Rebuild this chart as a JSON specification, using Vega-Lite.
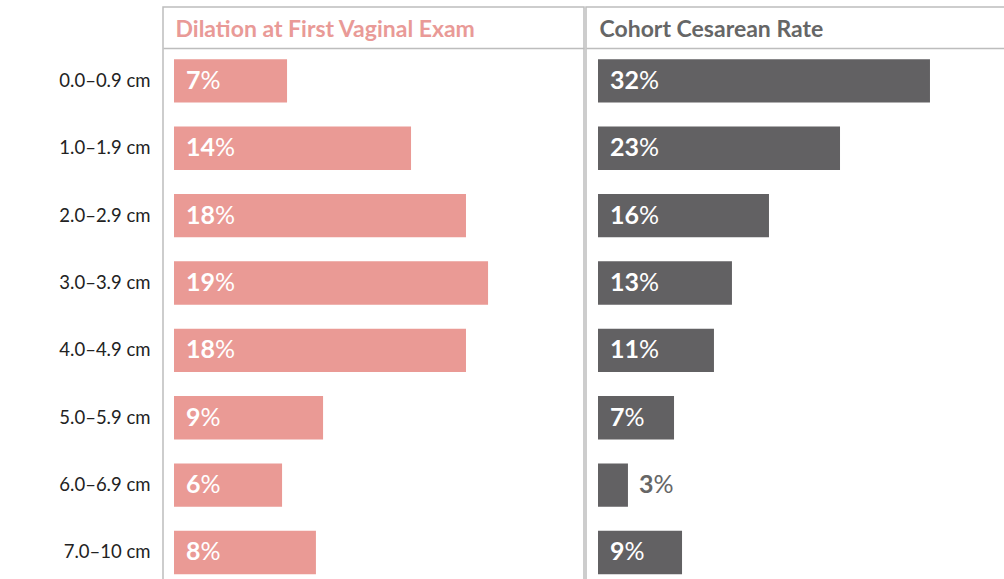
{
  "$schema": "https://vega.github.io/schema/vega-lite/v6.json",
  "padding": {"left": 0, "top": 6, "right": 0, "bottom": 0},
  "background": "white",
  "spacing": 0,
  "config": {"view": {"stroke": "#bdbdbd", "strokeWidth": 1.5}, "font": "Lato"},
  "data": {"values": [
    {"range": "0.0–0.9 cm", "dil": 6.81, "dilLabel": "7", "ces": 31.92, "cesLabel": "32"},
    {"range": "1.0–1.9 cm", "dil": 14.28, "dilLabel": "14", "ces": 23.27, "cesLabel": "23"},
    {"range": "2.0–2.9 cm", "dil": 17.59, "dilLabel": "18", "ces": 16.44, "cesLabel": "16"},
    {"range": "3.0–3.9 cm", "dil": 18.92, "dilLabel": "19", "ces": 12.88, "cesLabel": "13"},
    {"range": "4.0–4.9 cm", "dil": 17.59, "dilLabel": "18", "ces": 11.15, "cesLabel": "11"},
    {"range": "5.0–5.9 cm", "dil": 8.98, "dilLabel": "9", "ces": 7.31, "cesLabel": "7"},
    {"range": "6.0–6.9 cm", "dil": 6.51, "dilLabel": "6", "ces": 2.88, "cesLabel": "3"},
    {"range": "7.0–10 cm", "dil": 8.55, "dilLabel": "8", "ces": 8.08, "cesLabel": "9"}
  ]},
  "hconcat": [
    {
      "width": 421,
      "height": 573,
      "encoding": {
        "y": {"field": "range", "type": "nominal", "sort": null,
          "scale": {"paddingInner": 0.355, "paddingOuter": 0.43, "align": 0.9},
          "axis": {"title": null, "domain": false, "ticks": false, "labelFontSize": 18.5, "labelColor": "#222222", "labelPadding": 13, "labelFont": "Lato", "minExtent": 162, "maxExtent": 162}}
      },
      "layer": [
        {
          "mark": {"type": "bar", "color": "#EA9A95"},
          "encoding": {
            "x": {"field": "dil", "type": "quantitative",
              "scale": {"domain": [-0.663, 24.7], "nice": false, "zero": false},
              "axis": {"orient": "top", "offset": -41, "domain": true, "domainColor": "#bdbdbd", "domainWidth": 1.5, "ticks": false, "labels": false, "grid": false,
                "title": "Dilation at First Vaginal Exam", "titleAnchor": "start", "titleAlign": "left", "titleBaseline": "middle", "titleX": 12, "titleY": -19,
                "titleColor": "#E99A97", "titleFontSize": 23, "titleFontWeight": "bold", "titleFont": "Lato"}},
            "x2": {"datum": 0}
          }
        },
        {
          "mark": {"type": "text", "align": "left", "baseline": "middle", "dx": 12, "color": "white", "fontSize": 25, "fontWeight": "bold", "font": "Lato"},
          "encoding": {"x": {"datum": 0, "type": "quantitative"}, "text": {"field": "dilLabel"}}
        },
        {
          "transform": [{"filter": "length(datum.dilLabel) == 1"}],
          "mark": {"type": "text", "align": "left", "baseline": "middle", "dx": 26.5, "color": "white", "fontSize": 25, "fontWeight": "normal", "font": "Lato", "text": "%"},
          "encoding": {"x": {"datum": 0, "type": "quantitative"}}
        },
        {
          "transform": [{"filter": "length(datum.dilLabel) == 2"}],
          "mark": {"type": "text", "align": "left", "baseline": "middle", "dx": 41, "color": "white", "fontSize": 25, "fontWeight": "normal", "font": "Lato", "text": "%"},
          "encoding": {"x": {"datum": 0, "type": "quantitative"}}
        }
      ]
    },
    {
      "width": 420,
      "height": 573,
      "encoding": {
        "y": {"field": "range", "type": "nominal", "sort": null,
          "scale": {"paddingInner": 0.355, "paddingOuter": 0.43, "align": 0.9},
          "axis": null}
      },
      "layer": [
        {
          "mark": {"type": "bar", "color": "#626163"},
          "encoding": {
            "x": {"field": "ces", "type": "quantitative",
              "scale": {"domain": [-1.154, 39.23], "nice": false, "zero": false},
              "axis": {"orient": "top", "offset": -41, "domain": true, "domainColor": "#bdbdbd", "domainWidth": 1.5, "ticks": false, "labels": false, "grid": false,
                "title": "Cohort Cesarean Rate", "titleAnchor": "start", "titleAlign": "left", "titleBaseline": "middle", "titleX": 13, "titleY": -19,
                "titleColor": "#666666", "titleFontSize": 23, "titleFontWeight": "bold", "titleFont": "Lato"}},
            "x2": {"datum": 0}
          }
        },
        {
          "transform": [{"filter": "datum.ces >= 4"}],
          "mark": {"type": "text", "align": "left", "baseline": "middle", "dx": 12, "color": "white", "fontSize": 25, "fontWeight": "bold", "font": "Lato"},
          "encoding": {"x": {"datum": 0, "type": "quantitative"}, "text": {"field": "cesLabel"}}
        },
        {
          "transform": [{"filter": "datum.ces >= 4 && length(datum.cesLabel) == 1"}],
          "mark": {"type": "text", "align": "left", "baseline": "middle", "dx": 26.5, "color": "white", "fontSize": 25, "fontWeight": "normal", "font": "Lato", "text": "%"},
          "encoding": {"x": {"datum": 0, "type": "quantitative"}}
        },
        {
          "transform": [{"filter": "datum.ces >= 4 && length(datum.cesLabel) == 2"}],
          "mark": {"type": "text", "align": "left", "baseline": "middle", "dx": 41, "color": "white", "fontSize": 25, "fontWeight": "normal", "font": "Lato", "text": "%"},
          "encoding": {"x": {"datum": 0, "type": "quantitative"}}
        },
        {
          "transform": [{"filter": "datum.ces < 4"}],
          "mark": {"type": "text", "align": "left", "baseline": "middle", "dx": 11, "color": "#666666", "fontSize": 25, "fontWeight": "bold", "font": "Lato"},
          "encoding": {"x": {"field": "ces", "type": "quantitative"}, "text": {"field": "cesLabel"}}
        },
        {
          "transform": [{"filter": "datum.ces < 4"}],
          "mark": {"type": "text", "align": "left", "baseline": "middle", "dx": 25.5, "color": "#666666", "fontSize": 25, "fontWeight": "normal", "font": "Lato", "text": "%"},
          "encoding": {"x": {"field": "ces", "type": "quantitative"}}
        }
      ]
    }
  ]
}
